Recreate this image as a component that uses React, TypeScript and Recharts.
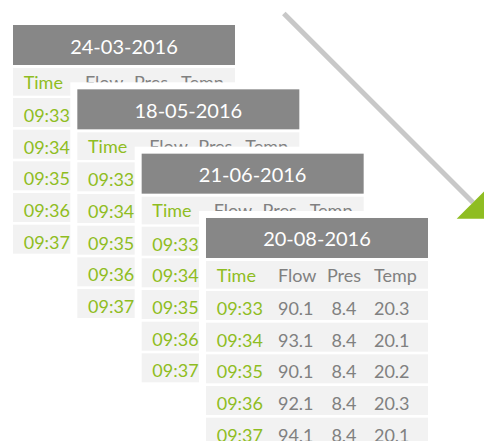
import React from 'react';
import { ScatterChart, Scatter, XAxis, YAxis } from 'recharts';

// ---- data ----
const dates = ['24-03-2016', '18-05-2016', '21-06-2016', '20-08-2016'];
const columns = ['Time', 'Flow', 'Pres', 'Temp'];
const times = ['09:33', '09:34', '09:35', '09:36', '09:37'];
const flow = [90.1, 93.1, 90.1, 92.1, 94.1];
const pres = [8.4, 8.4, 8.4, 8.4, 8.4];
const temp = [20.3, 20.1, 20.2, 20.3, 20.1];
// arrow path in "table step" units (table index along the diagonal)
const arrowX = [4.21, 7.15];
const arrowY = [-0.18, 2.76];

// ---- layout ----
const W = 484;
const H = 441;
const STEP = 64.33; // pixels between consecutive tables
const ORIGIN_X = 13;
const ORIGIN_Y = 25;
const X_DOMAIN = [-ORIGIN_X / STEP, (W - ORIGIN_X) / STEP];
const Y_DOMAIN = [-ORIGIN_Y / STEP, (H - ORIGIN_Y) / STEP];

const FONT = 'Lato, "Open Sans", sans-serif';
const GREEN = '#8FBD22';
const GREY_TEXT = '#808080';
const HEADER_FILL = '#878787';
const ROW_FILL = '#F2F2F2';

const TABLE_W = 222;
const HEAD_H = 40;
const PAD = 7;
const COLROW_TOP = 43;
const COLROW_H = 27.7;
const ROW_TOP = 73;
const ROW_PITCH = 31.67;
const ROW_H = 29;

const tableData = dates.map((d, i) => ({ x: i, y: i, date: d }));
const arrowData = arrowX.map((x, i) => ({ x, y: arrowY[i], last: i === arrowX.length - 1 }));

const TableShape = (props: any) => {
  const { cx, cy, payload } = props;
  const x0 = cx;
  const y0 = cy;
  const lastBottom = ROW_TOP + ROW_PITCH * (times.length - 1) + ROW_H;
  const colX = [x0 + 10.7, x0 + 72, x0 + 138, x0 + 168];
  const anchors: any[] = ['start', 'start', 'middle', 'start'];
  return (
    <g>
      <rect x={x0 - PAD} y={y0 - PAD} width={TABLE_W + 2 * PAD} height={lastBottom + 2 * PAD} fill="#FFFFFF" />
      <rect x={x0} y={y0} width={TABLE_W} height={HEAD_H} fill={HEADER_FILL} />
      <text x={x0 + TABLE_W / 2} y={y0 + 28.5} textAnchor="middle" fontFamily={FONT} fontSize={20} fill="#FFFFFF">
        {payload.date}
      </text>
      <rect x={x0} y={y0 + COLROW_TOP} width={TABLE_W} height={COLROW_H} fill={ROW_FILL} />
      {columns.map((c, j) => (
        <text
          key={c}
          x={colX[j]}
          y={y0 + 63.7}
          textAnchor={anchors[j]}
          fontFamily={FONT}
          fontSize={18}
          fill={j === 0 ? GREEN : GREY_TEXT}
        >
          {c}
        </text>
      ))}
      {times.map((t, r) => {
        const top = y0 + ROW_TOP + ROW_PITCH * r;
        const vals = [t, flow[r].toFixed(1), pres[r].toFixed(1), temp[r].toFixed(1)];
        return (
          <g key={t}>
            <rect x={x0} y={top} width={TABLE_W} height={ROW_H} fill={ROW_FILL} />
            {vals.map((v, j) => (
              <text
                key={j}
                x={colX[j]}
                y={top + 24}
                textAnchor={anchors[j]}
                fontFamily={FONT}
                fontSize={18}
                fill={j === 0 ? GREEN : GREY_TEXT}
              >
                {v}
              </text>
            ))}
          </g>
        );
      })}
    </g>
  );
};

const dx = arrowX[1] - arrowX[0];
const dy = arrowY[1] - arrowY[0];
const ANG = Math.atan2(dy, dx);

const ArrowHead = (props: any) => {
  const { cx, cy, payload } = props;
  if (!payload.last) return <g />;
  const half = 23;
  const len = 23;
  const ux = Math.cos(ANG);
  const uy = Math.sin(ANG);
  const px = -uy;
  const py = ux;
  const pts = [
    [cx + px * half, cy + py * half],
    [cx - px * half, cy - py * half],
    [cx + ux * len, cy + uy * len],
  ]
    .map((p) => p.join(','))
    .join(' ');
  return <polygon points={pts} fill={GREEN} />;
};

export default function App() {
  return (
    <div style={{ position: 'absolute', left: 0, top: 0 }}>
      <ScatterChart width={W} height={H} margin={{ top: 0, right: 0, bottom: 0, left: 0 }}>
        <XAxis type="number" dataKey="x" hide domain={X_DOMAIN} />
        <YAxis type="number" dataKey="y" hide reversed domain={Y_DOMAIN} />
        <Scatter
          data={arrowData}
          fill="#C8C8C8"
          line={{ stroke: '#C8C8C8', strokeWidth: 5 }}
          shape={ArrowHead}
          isAnimationActive={false}
        />
        <Scatter data={tableData} shape={TableShape} isAnimationActive={false} />
      </ScatterChart>
    </div>
  );
}
